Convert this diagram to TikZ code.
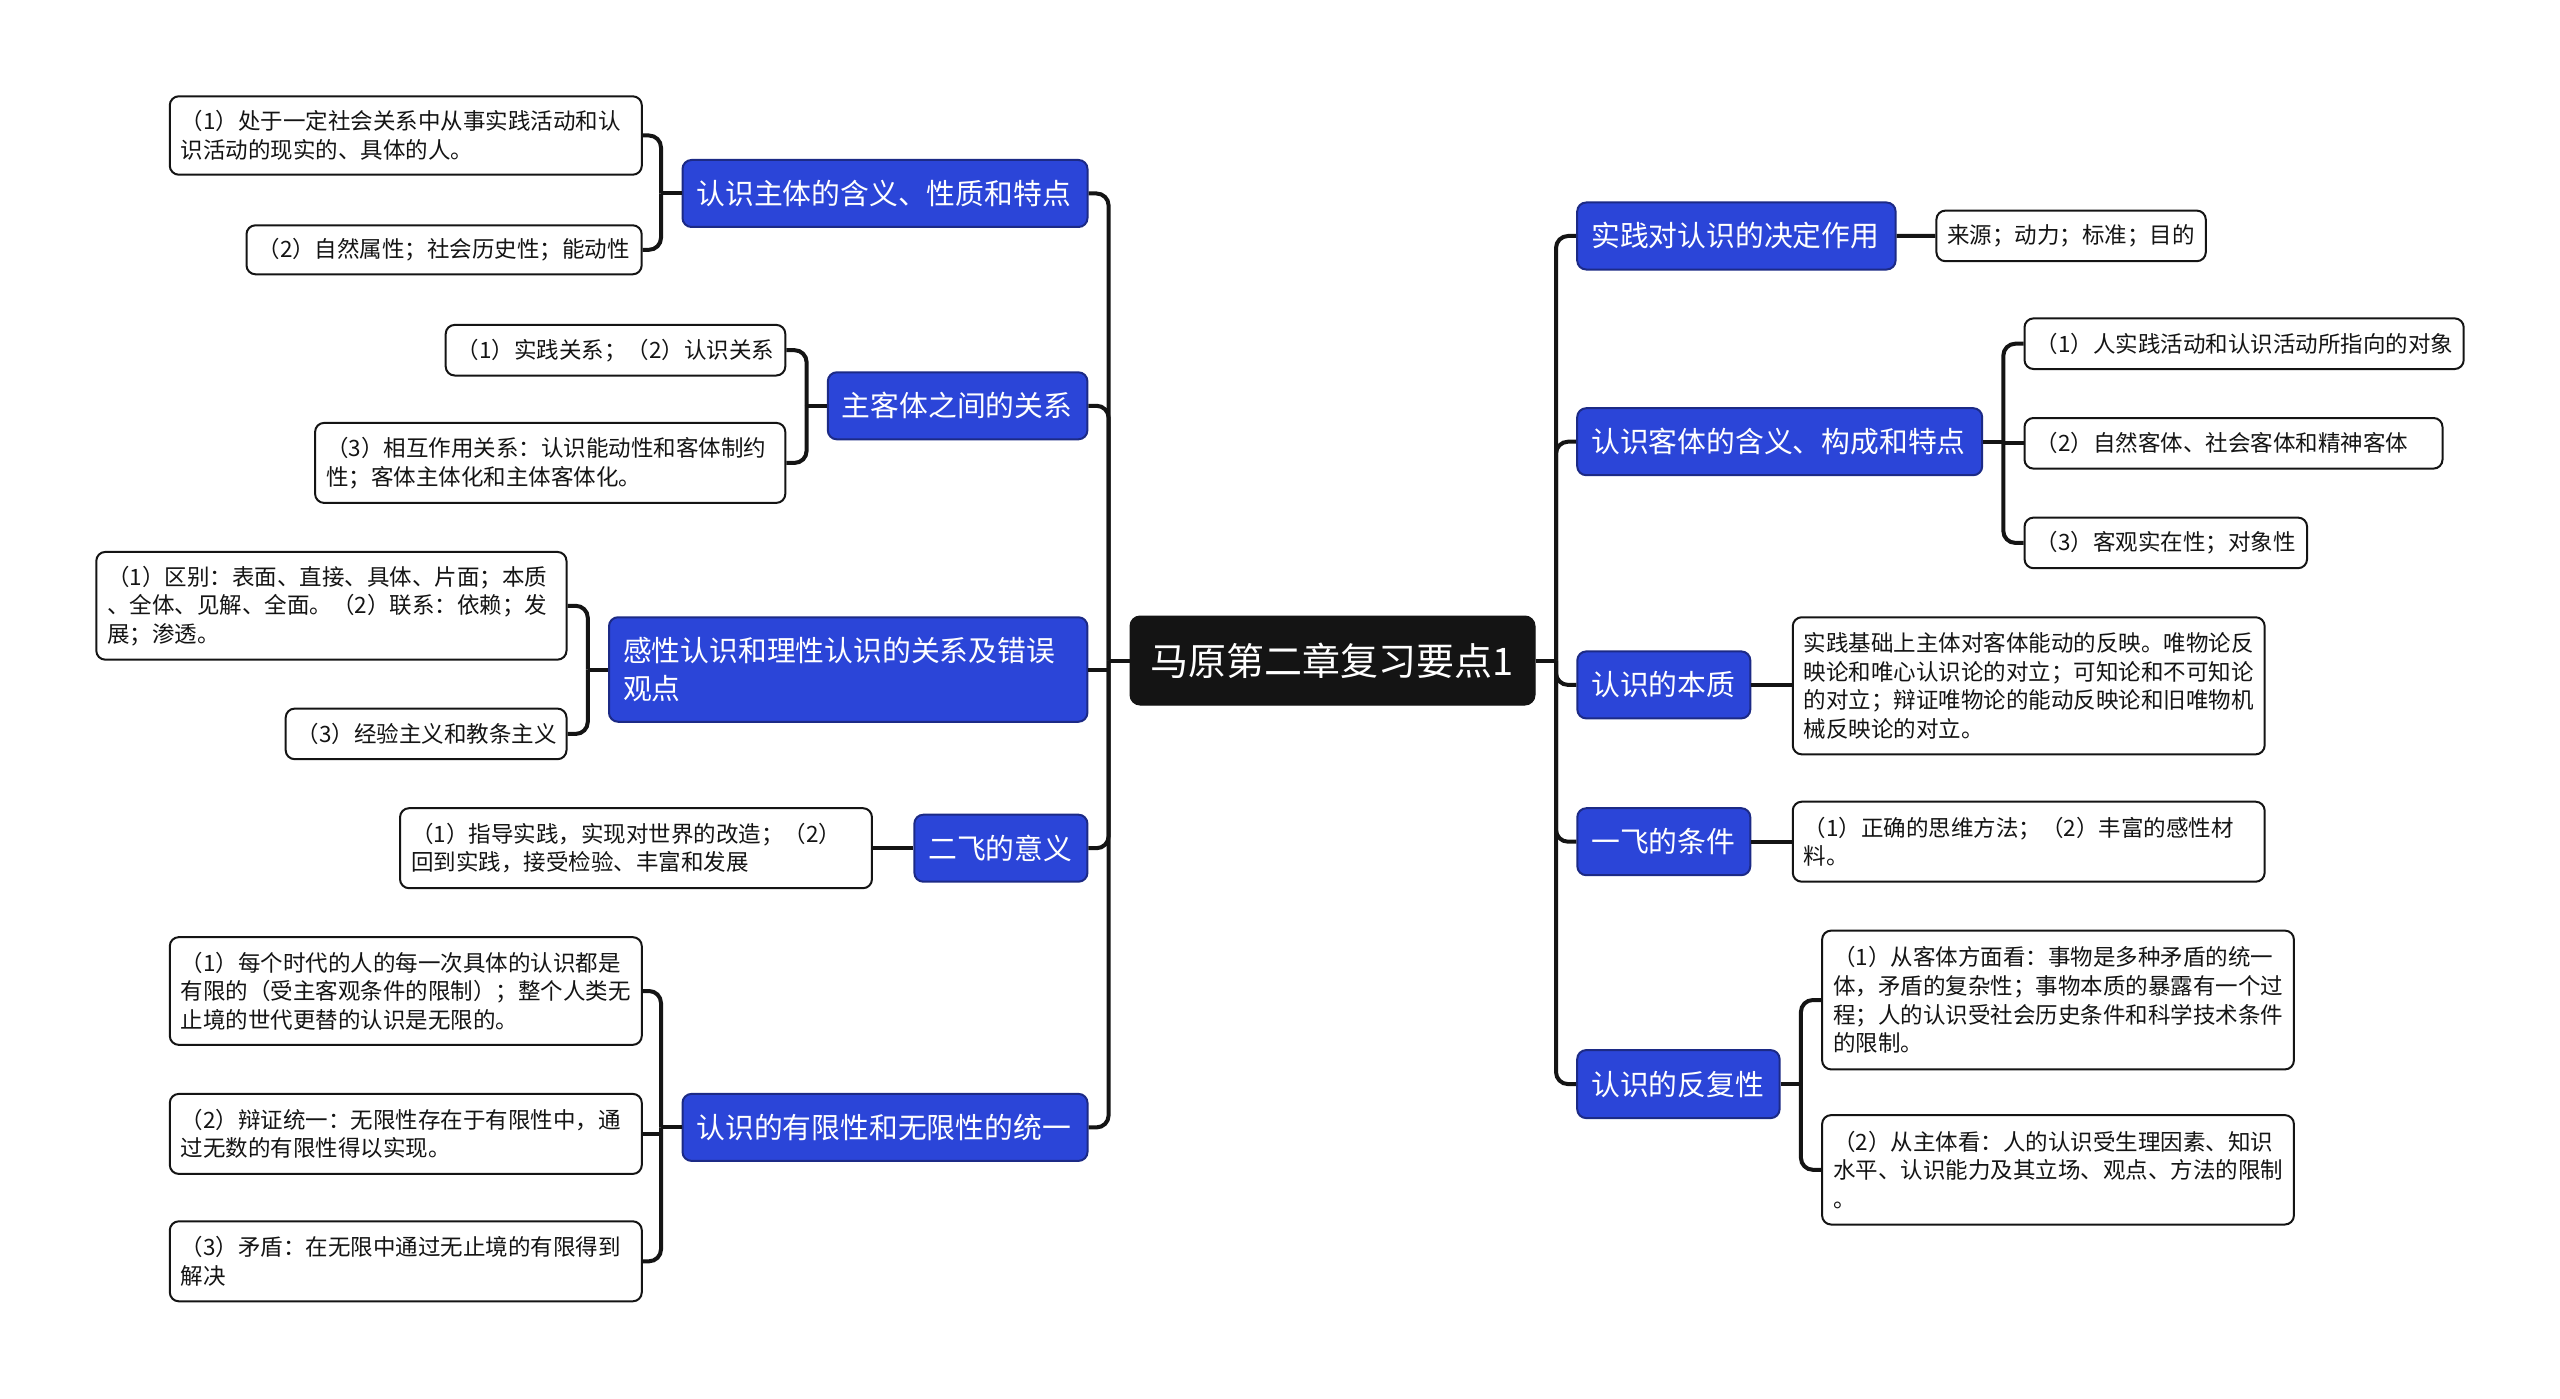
\documentclass[tikz,border=0pt]{standalone}
\usepackage{fontspec}
\setmainfont{Noto Sans CJK SC}
\usetikzlibrary{calc}
\definecolor{mainblue}{HTML}{2B45D8}
\definecolor{navy}{HTML}{1C2A86}
\definecolor{ink}{HTML}{141414}
\tikzset{
  mainnode/.style={fill=mainblue, draw=navy, line width=2pt, rounded corners=9pt, text=white,
    font=\fontsize{28.8}{37.5}\selectfont, align=left, inner xsep=14pt, inner ysep=0pt},
  leaf/.style={fill=white, draw=ink, line width=2pt, rounded corners=9pt, text=ink,
    font=\fontsize{22.5}{28.6}\selectfont, align=left, inner xsep=11pt, inner ysep=0pt},
  rootnode/.style={fill=ink, draw=ink, line width=1pt, rounded corners=10pt, text=white,
    font=\fontsize{38}{46}\selectfont, align=center, inner sep=0pt},
  conn/.style={draw=ink, line width=4pt, rounded corners=12pt},
  straight/.style={draw=ink, line width=4pt},
}
\begin{document}
\begin{tikzpicture}[x=1pt,y=-1pt]
\useasboundingbox[fill=white] (0,0) rectangle (2560,1399);

% root
\node[rootnode, minimum width=405pt, minimum height=89pt] (root) at (1332.5,660.5) {马原第二章复习要点1};

% trunk coordinates
\coordinate (tl) at (1108.6,660.5);
\coordinate (tr) at (1556,660.5);
\coordinate (t1) at (661,0);
\coordinate (t2) at (806.6,0);
\coordinate (t3) at (587.8,0);
\coordinate (t5) at (661,0);
\coordinate (r2t) at (2003.3,0);
\coordinate (r5t) at (1800.9,0);

% left main nodes
\node[mainnode, minimum width=405pt, minimum height=67pt, text width=377pt] (L1) at (885,193.5) {认识主体的含义、性质和特点};
\node[mainnode, minimum width=259.6pt, minimum height=67pt, text width=231.6pt] (L2) at (957.6,405.8) {主客体之间的关系};
\node[mainnode, minimum width=478.4pt, minimum height=104.5pt, text width=450.4pt] (L3) at (848.2,669.5) {感性认识和理性认识的关系及错误\\观点};
\node[mainnode, minimum width=173.1pt, minimum height=67pt, text width=145.1pt] (L4) at (1000.9,848.2) {二飞的意义};
\node[mainnode, minimum width=405pt, minimum height=67pt, text width=377pt] (L5) at (885,1127.4) {认识的有限性和无限性的统一};

% right main nodes
\node[mainnode, minimum width=318.4pt, minimum height=67pt, text width=290.4pt] (R1) at (1736.4,236) {实践对认识的决定作用};
\node[mainnode, minimum width=405pt, minimum height=67pt, text width=377pt] (R2) at (1779.7,441.7) {认识客体的含义、构成和特点};
\node[mainnode, minimum width=173pt, minimum height=67pt, text width=145pt] (R3) at (1663.8,684.9) {认识的本质};
\node[mainnode, minimum width=173pt, minimum height=67pt, text width=145pt] (R4) at (1663.8,841.7) {一飞的条件};
\node[mainnode, minimum width=202.4pt, minimum height=68pt, text width=174.4pt] (R5) at (1678.4,1084.1) {认识的反复性};

% left leaves
\node[leaf, minimum width=472pt, minimum height=78.4pt, text width=450pt] (L1a) at (405.8,135.5) {（1）处于一定社会关系中从事实践活动和认\\识活动的现实的、具体的人。};
\node[leaf, minimum width=395.2pt, minimum height=49pt, text width=373.2pt] (L1b) at (444.1,249.8) {（2）自然属性；社会历史性；能动性};
\node[leaf, minimum width=339.6pt, minimum height=50.6pt, text width=317.6pt] (L2a) at (615.5,350.2) {（1）实践关系；（2）认识关系};
\node[leaf, minimum width=470.2pt, minimum height=80pt, text width=448.2pt] (L2b) at (550.2,462.9) {（3）相互作用关系：认识能动性和客体制约\\性；客体主体化和主体客体化。};
\node[leaf, minimum width=470.2pt, minimum height=107.7pt, text width=448.2pt] (L3a) at (331.4,605.8) {（1）区别：表面、直接、具体、片面；本质\\、全体、见解、全面。（2）联系：依赖；发\\展；渗透。};
\node[leaf, minimum width=280.8pt, minimum height=50.6pt, text width=258.8pt] (L3b) at (426.1,733.9) {（3）经验主义和教条主义};
\node[leaf, minimum width=471.9pt, minimum height=80pt, text width=449.9pt] (L4a) at (636,848.2) {（1）指导实践，实现对世界的改造；（2）\\回到实践，接受检验、丰富和发展};
\node[leaf, minimum width=472pt, minimum height=107.7pt, text width=450pt] (L5a) at (405.8,991) {（1）每个时代的人的每一次具体的认识都是\\有限的（受主客观条件的限制）；整个人类无\\止境的世代更替的认识是无限的。};
\node[leaf, minimum width=472pt, minimum height=80pt, text width=450pt] (L5b) at (405.8,1133.9) {（2）辩证统一：无限性存在于有限性中，通\\过无数的有限性得以实现。};
\node[leaf, minimum width=472pt, minimum height=80pt, text width=450pt] (L5c) at (405.8,1261.3) {（3）矛盾：在无限中通过无止境的有限得到\\解决};

% right leaves
\node[leaf, minimum width=269.4pt, minimum height=50.6pt, text width=247.4pt] (R1a) at (2071.1,235.9) {来源；动力；标准；目的};
\node[leaf, minimum width=439.2pt, minimum height=50.6pt, text width=417.2pt] (R2a) at (2244.1,343.7) {（1）人实践活动和认识活动所指向的对象};
\node[leaf, minimum width=418pt, minimum height=50.6pt, text width=396pt] (R2b) at (2233.5,443.3) {（2）自然客体、社会客体和精神客体};
\node[leaf, minimum width=282.5pt, minimum height=50.6pt, text width=260.5pt] (R2c) at (2165.8,542.9) {（3）客观实在性；对象性};
\node[leaf, minimum width=471.9pt, minimum height=137.1pt, text width=449.9pt] (R3a) at (2028.7,685.8) {实践基础上主体对客体能动的反映。唯物论反\\映论和唯心认识论的对立；可知论和不可知论\\的对立；辩证唯物论的能动反映论和旧唯物机\\械反映论的对立。};
\node[leaf, minimum width=471.9pt, minimum height=80pt, text width=449.9pt] (R4a) at (2028.7,841.7) {（1）正确的思维方法；（2）丰富的感性材\\料。};
\node[leaf, minimum width=471.8pt, minimum height=138.8pt, text width=449.8pt] (R5a) at (2058,1000) {（1）从客体方面看：事物是多种矛盾的统一\\体，矛盾的复杂性；事物本质的暴露有一个过\\程；人的认识受社会历史条件和科学技术条件\\的限制。};
\node[leaf, minimum width=471.8pt, minimum height=109.4pt, text width=449.8pt] (R5b) at (2058,1169.8) {（2）从主体看：人的认识受生理因素、知识\\水平、认识能力及其立场、观点、方法的限制\\。};

% root to main nodes (left)
\draw[straight] (root.west) -- (tl);
\foreach \n in {L1,L2,L4,L5}{
  \draw[conn] (tl) |- (\n.east);
}
\draw[straight] (L3.east) -- (L3.east -| tl);
% root to main nodes (right)
\draw[straight] (root.east) -- (tr);
\foreach \n in {R1,R2,R3,R4,R5}{
  \draw[conn] (tr) |- (\n.west);
}

% left children
\draw[straight] (L1.west) -- (L1.west -| t1);
\foreach \c in {L1a,L1b}{ \draw[conn] (L1.west -| t1) |- (\c.east); }
\draw[straight] (L2.west) -- (L2.west -| t2);
\foreach \c in {L2a,L2b}{ \draw[conn] (L2.west -| t2) |- (\c.east); }
\draw[straight] (L3.west) -- (L3.west -| t3);
\foreach \c in {L3a,L3b}{ \draw[conn] (L3.west -| t3) |- (\c.east); }
\draw[straight] (L4.west) -- (L4a.east);
\draw[straight] (L5.west) -- (L5.west -| t5);
\draw[straight] (L5b.east) -- (L5b.east -| t5);
\foreach \c in {L5a,L5c}{ \draw[conn] (L5.west -| t5) |- (\c.east); }

% right children
\draw[straight] (R1.east) -- (R1a.west);
\draw[straight] (R2.east) -- (R2.east -| r2t);
\draw[straight] (R2b.west) -- (R2b.west -| r2t);
\foreach \c in {R2a,R2c}{ \draw[conn] (R2.east -| r2t) |- (\c.west); }
\draw[straight] (R3.east) -- (R3.east -| R3a.west);
\draw[straight] (R4.east) -- (R4a.west);
\draw[straight] (R5.east) -- (R5.east -| r5t);
\foreach \c in {R5a,R5b}{ \draw[conn] (R5.east -| r5t) |- (\c.west); }

\end{tikzpicture}
\end{document}
